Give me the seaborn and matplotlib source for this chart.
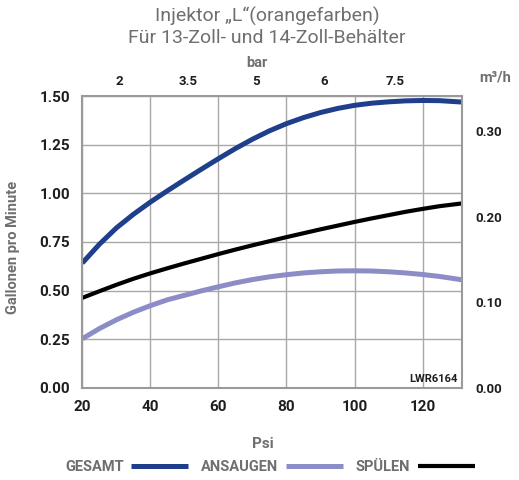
import matplotlib
matplotlib.use("Agg")
import matplotlib.pyplot as plt
import pandas as pd
import seaborn as sns

psi = [20, 25, 30, 35, 40, 45, 50, 55, 60, 65, 70, 75, 80, 85, 90, 95, 100,
       105, 110, 115, 120, 125, 131.5]
gesamt = [0.642, 0.738, 0.822, 0.892, 0.955, 1.013, 1.069, 1.124, 1.178, 1.230,
          1.278, 1.321, 1.358, 1.389, 1.415, 1.436, 1.452, 1.463, 1.470, 1.475,
          1.477, 1.476, 1.469]
ansaugen = [0.253, 0.305, 0.350, 0.389, 0.423, 0.453, 0.476, 0.499, 0.520, 0.540,
            0.557, 0.571, 0.582, 0.591, 0.597, 0.601, 0.602, 0.601, 0.597, 0.591,
            0.583, 0.573, 0.556]
spuelen = [0.463, 0.497, 0.530, 0.561, 0.589, 0.615, 0.640, 0.664, 0.688, 0.711,
           0.733, 0.754, 0.775, 0.795, 0.815, 0.834, 0.853, 0.871, 0.888, 0.905,
           0.920, 0.934, 0.948]

series_names = ["GESAMT", "ANSAUGEN", "SPÜLEN"]
series_colors = ["#1f3f8c", "#8c8dc6", "#000000"]
series_widths = [3.6, 3.6, 3.0]

bar_labels = ["2", "3.5", "5", "6", "7.5"]
bar_pos_psi = [31, 51, 71, 91, 112]
m3h_ticks = [0.0, 0.1, 0.2, 0.3]
gpm_to_m3h = 0.2271

df = pd.DataFrame({
    "psi": psi * 3,
    "gpm": gesamt + ansaugen + spuelen,
    "serie": [n for n in series_names for _ in psi],
})

sns.set_style("white")
plt.rcParams["font.family"] = ["Roboto", "DejaVu Sans"]

GRAY = "#6f6f6f"
DARK = "#1e1e1e"

fig = plt.figure(figsize=(5.19, 4.8), dpi=100)
ax = fig.add_axes([0.1586, 0.1917, 0.7310, 0.6083])

for name, col, lw in zip(series_names, series_colors, series_widths):
    sns.lineplot(data=df[df.serie == name], x="psi", y="gpm", color=col,
                 lw=lw, ax=ax, label=name, solid_capstyle="butt")

ax.set_xlim(20, 131.5)
ax.set_ylim(0, 1.5)
ax.set_xticks([20, 40, 60, 80, 100, 120])
ax.set_yticks([0, 0.25, 0.5, 0.75, 1.0, 1.25, 1.5])
ax.set_yticklabels(["%.2f" % v for v in ax.get_yticks()])
ax.grid(True, color="#a8a8a8", lw=1)
ax.tick_params(length=0, labelsize=11, labelcolor=DARK, pad=9)
for t in ax.get_xticklabels() + ax.get_yticklabels():
    t.set_fontweight("bold")
for s in ax.spines.values():
    s.set_color("#9a9a9a")
    s.set_linewidth(1.5)

ax.set_xlabel("Psi", fontsize=11, fontweight="bold", color=GRAY)
ax.xaxis.set_label_coords(0.476, -0.168)
ax.set_ylabel("Gallonen pro Minute", fontsize=10.5, fontweight="bold", color=GRAY)
ax.yaxis.set_label_coords(-0.163, 0.483)

# right axis m3/h
ax2 = ax.twinx()
ax2.set_ylim(0, 1.5 * gpm_to_m3h)
ax2.set_yticks(m3h_ticks)
ax2.set_yticklabels(["%.2f" % v for v in m3h_ticks])
ax2.tick_params(length=0, labelsize=9.5, labelcolor=DARK, pad=10)
for t in ax2.get_yticklabels():
    t.set_fontweight("bold")
for s in ax2.spines.values():
    s.set_visible(False)
ax2.grid(False)
fig.text(495 / 519, 1 - 77 / 480, "m³/h", ha="center", va="center",
         fontsize=10.5, fontweight="bold", color=GRAY)

# top axis bar
ax3 = ax.twiny()
ax3.set_xlim(ax.get_xlim())
ax3.set_xticks(bar_pos_psi)
ax3.set_xticklabels(bar_labels)
ax3.tick_params(length=0, labelsize=9.5, labelcolor=DARK, pad=6)
for t in ax3.get_xticklabels():
    t.set_fontweight("bold")
for s in ax3.spines.values():
    s.set_visible(False)
ax3.grid(False)
ax3.set_xlabel("bar", fontsize=10.5, fontweight="bold", color=GRAY)
ax3.xaxis.set_label_coords(0.46, 1.099)

ax.text(0.99, 0.03, "LWR6164", transform=ax.transAxes, ha="right", va="center",
        fontsize=8, fontweight="bold", color=DARK)

fig.text(267 / 519, 1 - 16 / 480, "Injektor „L“(orangefarben)", ha="center",
         va="center", fontsize=14, color=GRAY)
fig.text(267 / 519, 1 - 38 / 480, "Für 13-Zoll- und 14-Zoll-Behälter", ha="center",
         va="center", fontsize=14, color=GRAY)

handles, labels = ax.get_legend_handles_labels()
ax.get_legend().remove()
leg = fig.legend(handles, labels, loc="center", bbox_to_anchor=(270 / 519, 1 - 467 / 480),
                 ncol=3, frameon=False, markerfirst=False, handlelength=3.9,
                 handletextpad=0.5, columnspacing=0.9, prop={"weight": "bold", "size": 10.5})
for t in leg.get_texts():
    t.set_color(GRAY)

fig.savefig("out.png", dpi=100)
